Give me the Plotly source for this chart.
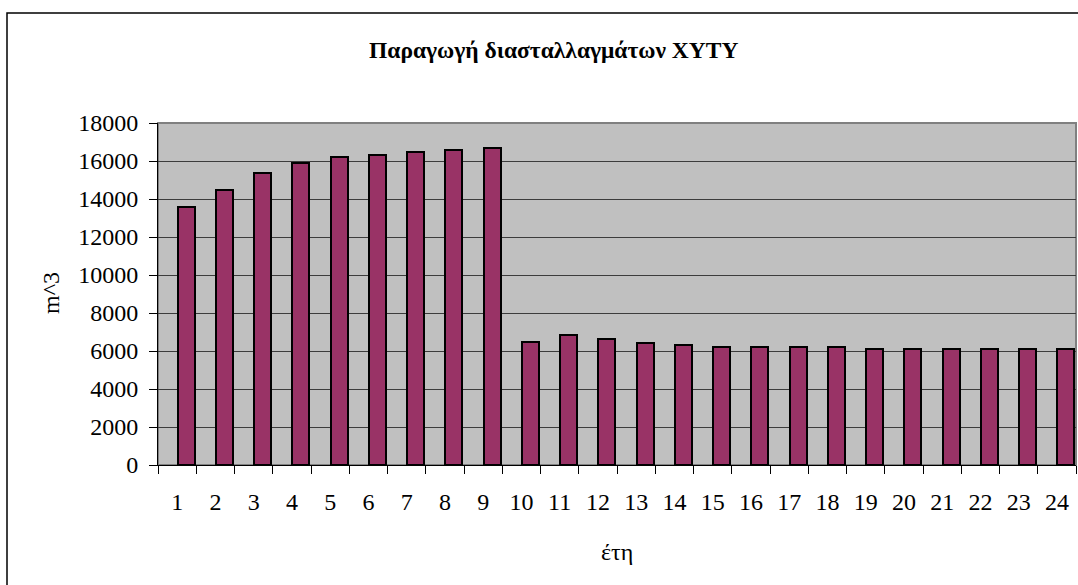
import plotly.graph_objects as go

# Annual production of leachate (m^3) per year
years = [str(i) for i in range(1, 25)]
volumes = [13580, 14500, 15350, 15900, 16200, 16300, 16500, 16600, 16700,
           6500, 6850, 6630, 6430, 6300, 6220, 6220, 6220, 6220,
           6100, 6100, 6100, 6100, 6100, 6100]
y_ticks = list(range(0, 18001, 2000))
y_tick_labels = [str(v) for v in y_ticks]

title_text = "Παραγωγή διασταλλαγμάτων XYTY"
x_title = "έτη"
y_title = "m^3"

W, H = 1078, 585
L, R, T, B = 158, 2, 123, 120
PW, PH = W - L - R, H - T - B

def px_to_paper_x(px):
    return (px - L) / PW

def px_to_paper_y(py):
    return (H - B - py) / PH

FONT = "Liberation Serif, Times New Roman, serif"
TICK_SIZE = 24

fig = go.Figure()
fig.add_trace(go.Bar(
    x=years, y=volumes,
    marker=dict(color="#993366", line=dict(color="black", width=2)),
    width=0.44, offset=0.015,
    showlegend=False,
))

fig.update_layout(
    width=W, height=H,
    margin=dict(l=L, r=R, t=T, b=B, pad=0),
    paper_bgcolor="white",
    plot_bgcolor="#C0C0C0",
    font=dict(family=FONT, size=TICK_SIZE, color="black"),
    bargap=0,
    xaxis=dict(
        type="category",
        tickson="boundaries",
        ticks="outside", ticklen=8, tickcolor="black", tickwidth=1,
        showline=True, linecolor="black", linewidth=1,
        showgrid=False,
        tickfont=dict(size=TICK_SIZE),
        ticklabelstandoff=15,
    ),
    yaxis=dict(
        range=[0, 18000],
        tickmode="array",
        tickvals=y_ticks,
        ticktext=y_tick_labels,
        ticks="outside", ticklen=8, tickcolor="black", tickwidth=1,
        showline=True, linecolor="black", linewidth=1,
        showgrid=True, gridcolor="#3c3c3c", gridwidth=1,
        zeroline=False,
        tickfont=dict(size=TICK_SIZE),
        ticklabelstandoff=6,
    ),
    shapes=[
        # plot-area frame (top and right edges in gray)
        dict(type="rect", xref="paper", yref="paper",
             x0=0, x1=1, y0=0, y1=1,
             line=dict(color="#808080", width=2), layer="below"),
        # outer chart border
        dict(type="rect", xref="paper", yref="paper",
             x0=px_to_paper_x(7), x1=px_to_paper_x(1100),
             y0=px_to_paper_y(600), y1=px_to_paper_y(13),
             line=dict(color="black", width=1.5)),
    ],
    annotations=[
        dict(text=f"<b>{title_text}</b>", xref="paper", yref="paper",
             x=px_to_paper_x(553), y=px_to_paper_y(50),
             xanchor="center", yanchor="middle", showarrow=False,
             font=dict(family=FONT, size=23.5)),
        dict(text=x_title, xref="paper", yref="paper",
             x=px_to_paper_x(617), y=px_to_paper_y(552),
             xanchor="center", yanchor="middle", showarrow=False,
             font=dict(family=FONT, size=TICK_SIZE)),
        dict(text=y_title, xref="paper", yref="paper",
             x=px_to_paper_x(51), y=px_to_paper_y(293),
             xanchor="center", yanchor="middle", showarrow=False,
             textangle=-90,
             font=dict(family=FONT, size=TICK_SIZE)),
    ],
)

fig.write_html("out.html")
